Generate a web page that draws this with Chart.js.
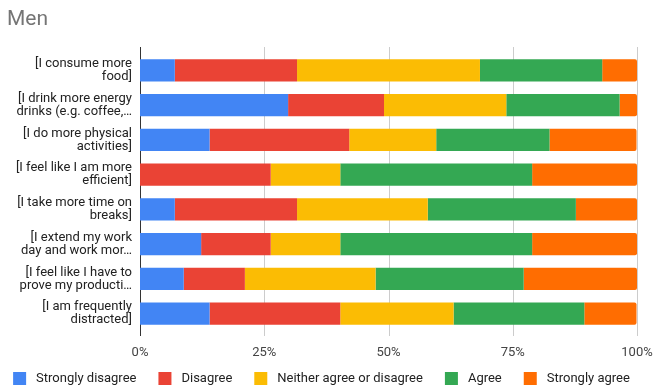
<!DOCTYPE html>
<html>
<head>
<meta charset="utf-8">
<script src="https://cdn.jsdelivr.net/npm/chart.js@4.4.1/dist/chart.umd.min.js"></script>
<style>
  html, body { margin: 0; padding: 0; background: #fff; }
  #wrap { width: 654px; height: 386px; position: relative; }
</style>
</head>
<body>
<div id="wrap"><canvas id="c"></canvas></div>
<script>
// Survey statements (multi-line, truncated as shown on the axis)
const categories = [
  ["[I consume more", "food]"],
  ["[I drink more energy", "drinks (e.g. coffee,\u2026"],
  ["[I do more physical", "activities]"],
  ["[I feel like I am more", "efficient]"],
  ["[I take more time on", "breaks]"],
  ["[I extend my work", "day and work mor\u2026"],
  ["[I feel like I have to", "prove my producti\u2026"],
  ["[I am frequently", "distracted]"]
];

// Share of respondents (%) per answer
const stronglyDisagree = [7.0, 29.8, 14.0, 0.0, 7.0, 12.3, 8.8, 14.0];
const disagree         = [24.6, 19.3, 28.1, 26.3, 24.6, 14.0, 12.3, 26.3];
const neither          = [36.8, 24.6, 17.5, 14.0, 26.3, 14.0, 26.3, 22.8];
const agree            = [24.6, 22.8, 22.8, 38.6, 29.8, 38.6, 29.8, 26.3];
const stronglyAgree    = [7.0, 3.5, 17.5, 21.1, 12.3, 21.1, 22.8, 10.5];

const xTicks = [0, 25, 50, 75, 100];

const FONT = "Roboto, 'Noto Sans', Arial, sans-serif";
Chart.defaults.font.family = FONT;

// Vertical grid lines that reach slightly past the bars
const gridPlugin = {
  id: 'vgrid',
  beforeDatasetsDraw(chart) {
    const { ctx, chartArea, scales } = chart;
    ctx.save();
    ctx.lineWidth = 1;
    xTicks.forEach(v => {
      const x = Math.round(scales.x.getPixelForValue(v)) + 0.5;
      ctx.strokeStyle = v === 0 ? '#333333' : '#cccccc';
      ctx.beginPath();
      ctx.moveTo(x, chartArea.top - 6);
      ctx.lineTo(x, chartArea.bottom + 5);
      ctx.stroke();
    });
    ctx.restore();
  }
};

// Single-row legend along the bottom edge, centred under the chart
const legendRow = {
  id: 'legendRow',
  afterDraw(chart) {
    const { ctx } = chart;
    const box = 13, textGap = 10, itemGap = 22, centerX = 321.5, boxTop = 372;
    ctx.save();
    ctx.font = '13px ' + FONT;
    ctx.textBaseline = 'middle';
    ctx.textAlign = 'left';
    const items = chart.data.datasets.map(d => ({
      text: d.label, color: d.backgroundColor, w: ctx.measureText(d.label).width
    }));
    const total = items.reduce((s, it) => s + box + textGap + it.w, 0) + itemGap * (items.length - 1);
    let x = centerX - total / 2;
    items.forEach(it => {
      ctx.fillStyle = it.color;
      ctx.fillRect(x, boxTop, box, box);
      ctx.fillStyle = '#222222';
      ctx.fillText(it.text, x + box + textGap, boxTop + box / 2 + 0.5);
      x += box + textGap + it.w + itemGap;
    });
    ctx.restore();
  }
};

const ds = (label, data, color) => ({
  label, data,
  backgroundColor: color,
  borderWidth: 0,
  borderRadius: 2,
  barPercentage: 0.64,
  categoryPercentage: 1.0
});

new Chart(document.getElementById('c'), {
  type: 'bar',
  data: {
    labels: categories,
    datasets: [
      ds('Strongly disagree', stronglyDisagree, '#4285F4'),
      ds('Disagree', disagree, '#EA4335'),
      ds('Neither agree or disagree', neither, '#FBBC04'),
      ds('Agree', agree, '#34A853'),
      ds('Strongly agree', stronglyAgree, '#FF6D01')
    ]
  },
  options: {
    indexAxis: 'y',
    responsive: true,
    maintainAspectRatio: false,
    animation: false,
    layout: { padding: { left: 7, right: 17, top: 0, bottom: 11.4 } },
    scales: {
      x: {
        stacked: true,
        min: 0,
        max: 100,
        afterBuildTicks(scale) { scale.ticks = xTicks.map(v => ({ value: v })); },
        afterFit(scale) { scale.paddingLeft = 0; scale.paddingRight = 0; },
        grid: { display: false, drawTicks: false },
        border: { display: false },
        ticks: {
          padding: 14,
          color: '#444444',
          font: { size: 13 },
          callback: v => v + '%'
        }
      },
      y: {
        stacked: true,
        afterFit(scale) { scale.width = 133; },
        grid: { display: false, drawTicks: false },
        border: { display: false },
        ticks: {
          padding: 8,
          color: '#222222',
          font: { size: 13, lineHeight: 1.0 }
        }
      }
    },
    plugins: {
      title: {
        display: true,
        text: 'Men',
        align: 'start',
        color: '#757575',
        font: { size: 21, weight: 'normal', lineHeight: 1.2 },
        padding: { top: 7, bottom: 20.8 }
      },
      legend: { display: false },
      tooltip: { enabled: false }
    }
  },
  plugins: [gridPlugin, legendRow]
});
</script>
</body>
</html>
